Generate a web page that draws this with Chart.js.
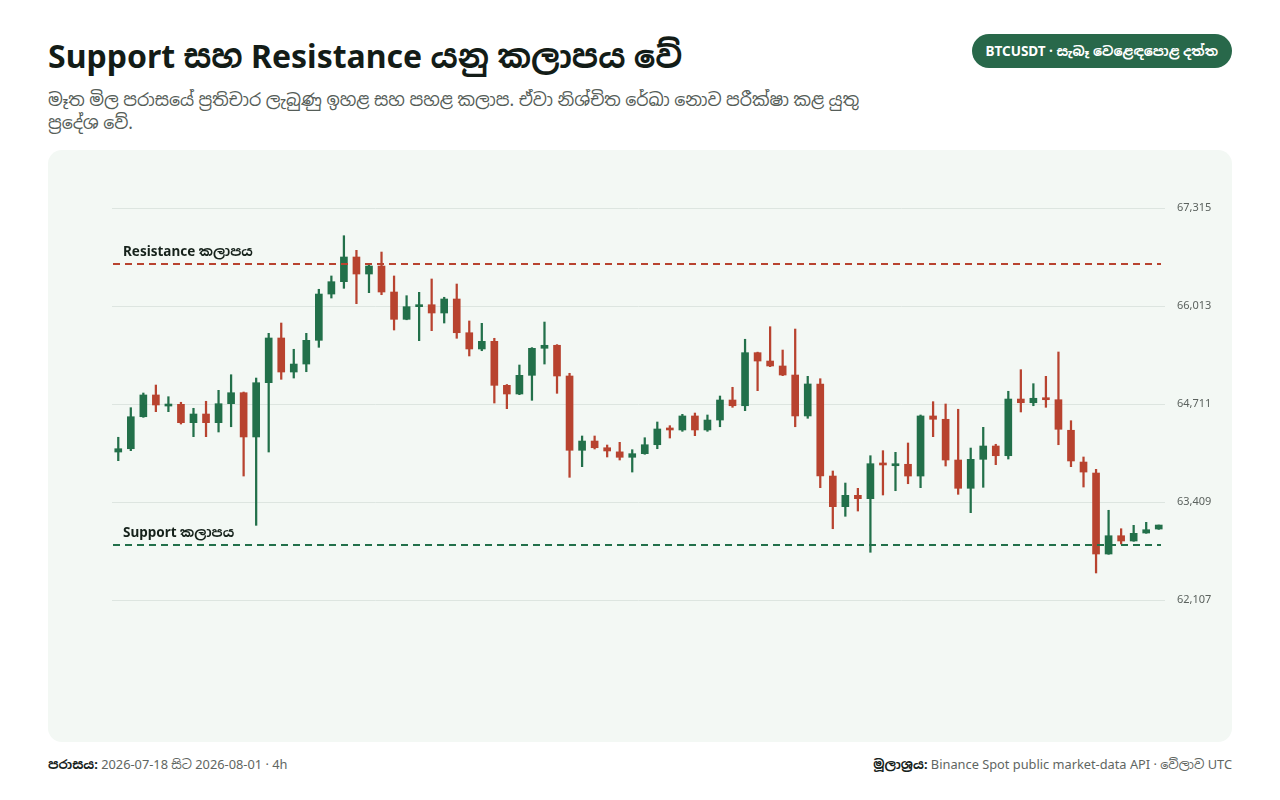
<!DOCTYPE html>
<html lang="si">
<head>
    <meta charset="UTF-8">
    <title>Support සහ Resistance</title>
    <script src="https://cdn.jsdelivr.net/npm/chart.js"></script>
    <style>
        body {
            margin: 0;
            width: 1280px;
            height: 800px;
            background: #ffffff;
            font-family: "Noto Sans", "Noto Sans Sinhala", "Open Sans", sans-serif;
            position: relative;
            overflow: hidden;
            color: #16221b;
        }

        h1 {
            position: absolute;
            left: 48px;
            top: 36px;
            margin: 0;
            font-size: 32px;
            line-height: 40px;
            font-weight: 700;
            color: #131c17;
        }

        .subtitle {
            position: absolute;
            left: 48px;
            top: 88px;
            width: 860px;
            margin: 0;
            font-size: 17.4px;
            line-height: 23px;
            color: #555d58;
        }

        .badge {
            position: absolute;
            right: 48px;
            top: 34px;
            height: 34px;
            line-height: 34px;
            padding: 0 14px;
            border-radius: 17px;
            background: #28684a;
            color: #ffffff;
            font-size: 13.5px;
            font-weight: 700;
        }

        .card {
            position: absolute;
            left: 48px;
            top: 150px;
            width: 1184px;
            height: 592px;
            background: #f3f8f4;
            border-radius: 14px;
        }

        .footer {
            position: absolute;
            top: 755px;
            font-size: 12.8px;
            line-height: 18px;
            color: #5f6662;
        }

        .footer b {
            color: #16221b;
        }
    </style>
</head>
<body>

    <h1>Support සහ Resistance යනු කලාපය වේ</h1>
    <p class="subtitle">මෑත මිල පරාසයේ ප්‍රතිචාර ලැබුණු ඉහළ සහ පහළ කලාප. ඒවා නිශ්චිත රේඛා නොව පරීක්ෂා කළ යුතු ප්‍රදේශ වේ.</p>
    <div class="badge">BTCUSDT · සැබෑ වෙළෙඳපොළ දත්ත</div>

    <div class="card">
        <canvas id="srChart" width="1184" height="592"></canvas>
    </div>

    <div class="footer" style="left:48px;"><b>පරාසය:</b> 2026-07-18 සිට 2026-08-01 · 4h</div>
    <div class="footer" style="right:48px;"><b>මූලාශ්‍රය:</b> Binance Spot public market-data API · වේලාව UTC</div>

    <script>
        // 4h candles, 2026-07-18 00:00 UTC onwards
        const opens = [
            64073, 64117, 64542, 64831, 64684, 64707, 64463, 64578, 64463, 64715,
            64861, 64273, 64994, 65588, 65136, 65242, 65557, 66172, 66336, 66664,
            66438, 66544, 66199, 65836, 66004, 66030, 65920, 66106, 65658, 65442,
            65544, 64959, 64844, 65092, 65451, 65491, 65083, 64096, 64219, 64130,
            64075, 64003, 64051, 64170, 64392, 64366, 64552, 64366, 64498, 64764,
            64688, 65393, 65282, 65216, 65096, 64552, 64977, 63754, 63347, 63498,
            63453, 63923, 63891, 63910, 63754, 64552, 64508, 63967, 63591, 63976,
            64153, 64024, 64777, 64728, 64791, 64768, 64362, 63940, 63794, 62718,
            62961, 62891, 62997, 63050
        ];
        const highs = [
            64269, 64662, 64857, 64963, 64808, 64734, 64654, 64747, 64893, 65100,
            64870, 65056, 65650, 65787, 65438, 65650, 66235, 66412, 66947, 66753,
            66558, 66730, 66412, 66150, 66195, 66372, 66129, 66305, 65814, 65783,
            65584, 64970, 65229, 65460, 65800, 65500, 65119, 64286, 64286, 64166,
            64202, 64104, 64263, 64472, 64423, 64574, 64591, 64565, 64817, 64933,
            65571, 65400, 65738, 65428, 65707, 65079, 65047, 63821, 63661, 63591,
            64024, 64091, 64069, 64193, 64565, 64742, 64711, 64641, 64126, 64401,
            64176, 64880, 65167, 64981, 65079, 65402, 64489, 64007, 63843, 63299,
            63054, 63099, 63139, 63103
        ];
        const lows = [
            63958, 64091, 64534, 64609, 64609, 64445, 64277, 64277, 64339, 64409,
            63754, 63099, 64073, 65039, 65056, 65140, 65464, 66119, 66248, 66044,
            66190, 66163, 65694, 65830, 65552, 65685, 65787, 65584, 65349, 65419,
            64724, 64649, 64835, 64760, 65242, 64853, 63737, 63878, 64113, 64007,
            63967, 63807, 64043, 64117, 64259, 64348, 64290, 64348, 64409, 64667,
            64622, 64888, 65207, 65087, 64409, 64521, 63599, 63054, 63219, 63289,
            62741, 63502, 63559, 63652, 63599, 64277, 63887, 63511, 63267, 63604,
            63905, 63980, 64605, 64688, 64667, 64170, 63878, 63608, 62466, 62714,
            62851, 62887, 62993, 63045
        ];
        const closes = [
            64117, 64542, 64831, 64698, 64707, 64463, 64578, 64463, 64715, 64861,
            64273, 64994, 65588, 65136, 65242, 65557, 66172, 66336, 66664, 66438,
            66544, 66199, 65836, 66004, 66030, 65920, 66106, 65658, 65442, 65544,
            64959, 64844, 65092, 65451, 65491, 65083, 64096, 64219, 64130, 64087,
            64003, 64051, 64170, 64379, 64366, 64552, 64366, 64498, 64764, 64688,
            65393, 65282, 65216, 65096, 64552, 64977, 63754, 63347, 63498, 63453,
            63918, 63901, 63910, 63754, 64552, 64508, 63967, 63591, 63976, 64153,
            64024, 64777, 64728, 64787, 64768, 64375, 63954, 63807, 62718, 62961,
            62891, 62993, 63041, 63103
        ];

        const yTicks = [62107, 63409, 64711, 66013, 67315];

        const zoneNames = ['Resistance කලාපය', 'Support කලාපය'];
        const zoneLevels = [66571, 62838];
        const zoneColors = ['#b8432f', '#22704a'];

        const green = '#22704a';
        const red = '#b8432f';

        const startTime = Date.UTC(2026, 6, 18, 0, 0);
        const labels = opens.map((_, i) => {
            const d = new Date(startTime + i * 4 * 3600 * 1000);
            return d.toISOString().slice(0, 16).replace('T', ' ');
        });

        const candleColors = opens.map((o, i) => closes[i] >= o ? green : red);

        // dashed zone lines with their labels
        const zonePlugin = {
            id: 'zones',
            afterDatasetsDraw(chart) {
                const { ctx, chartArea, scales } = chart;
                ctx.save();
                zoneLevels.forEach((level, i) => {
                    const y = scales.y.getPixelForValue(level);
                    ctx.strokeStyle = zoneColors[i];
                    ctx.lineWidth = 2;
                    ctx.setLineDash([7, 5]);
                    ctx.beginPath();
                    ctx.moveTo(chartArea.left + 1, y);
                    ctx.lineTo(chartArea.right - 4, y);
                    ctx.stroke();

                    ctx.setLineDash([]);
                    ctx.fillStyle = '#16221b';
                    ctx.font = 'bold 13.5px "Noto Sans", "Noto Sans Sinhala", sans-serif';
                    ctx.textBaseline = 'bottom';
                    ctx.fillText(zoneNames[i], chartArea.left + 11, y - 5);
                });
                ctx.restore();
            }
        };

        const ctx = document.getElementById('srChart').getContext('2d');

        new Chart(ctx, {
            type: 'bar',
            data: {
                labels: labels,
                datasets: [
                    {
                        label: 'Body',
                        data: opens.map((o, i) => [o, closes[i]]),
                        backgroundColor: candleColors,
                        barThickness: 7,
                        minBarLength: 2,
                        grouped: false,
                        order: 0
                    },
                    {
                        label: 'Wick',
                        data: lows.map((l, i) => [l, highs[i]]),
                        backgroundColor: candleColors,
                        barThickness: 1.6,
                        grouped: false,
                        order: 1
                    }
                ]
            },
            options: {
                responsive: false,
                animation: false,
                layout: {
                    padding: { left: 64, top: 58, bottom: 142, right: 0 }
                },
                plugins: {
                    legend: { display: false },
                    tooltip: { enabled: false }
                },
                scales: {
                    x: {
                        display: false,
                        offset: true
                    },
                    y: {
                        position: 'right',
                        min: yTicks[0],
                        max: yTicks[yTicks.length - 1],
                        afterBuildTicks(scale) {
                            scale.ticks = yTicks.map(v => ({ value: v }));
                        },
                        afterFit(scale) {
                            scale.width = 67;
                        },
                        border: { display: false },
                        grid: {
                            color: '#dde5e0',
                            drawTicks: false
                        },
                        ticks: {
                            padding: 12,
                            color: '#5b625e',
                            font: { size: 11, family: '"Noto Sans", sans-serif' },
                            callback: v => v.toLocaleString('en-US')
                        }
                    }
                }
            },
            plugins: [zonePlugin]
        });
    </script>

</body>
</html>
